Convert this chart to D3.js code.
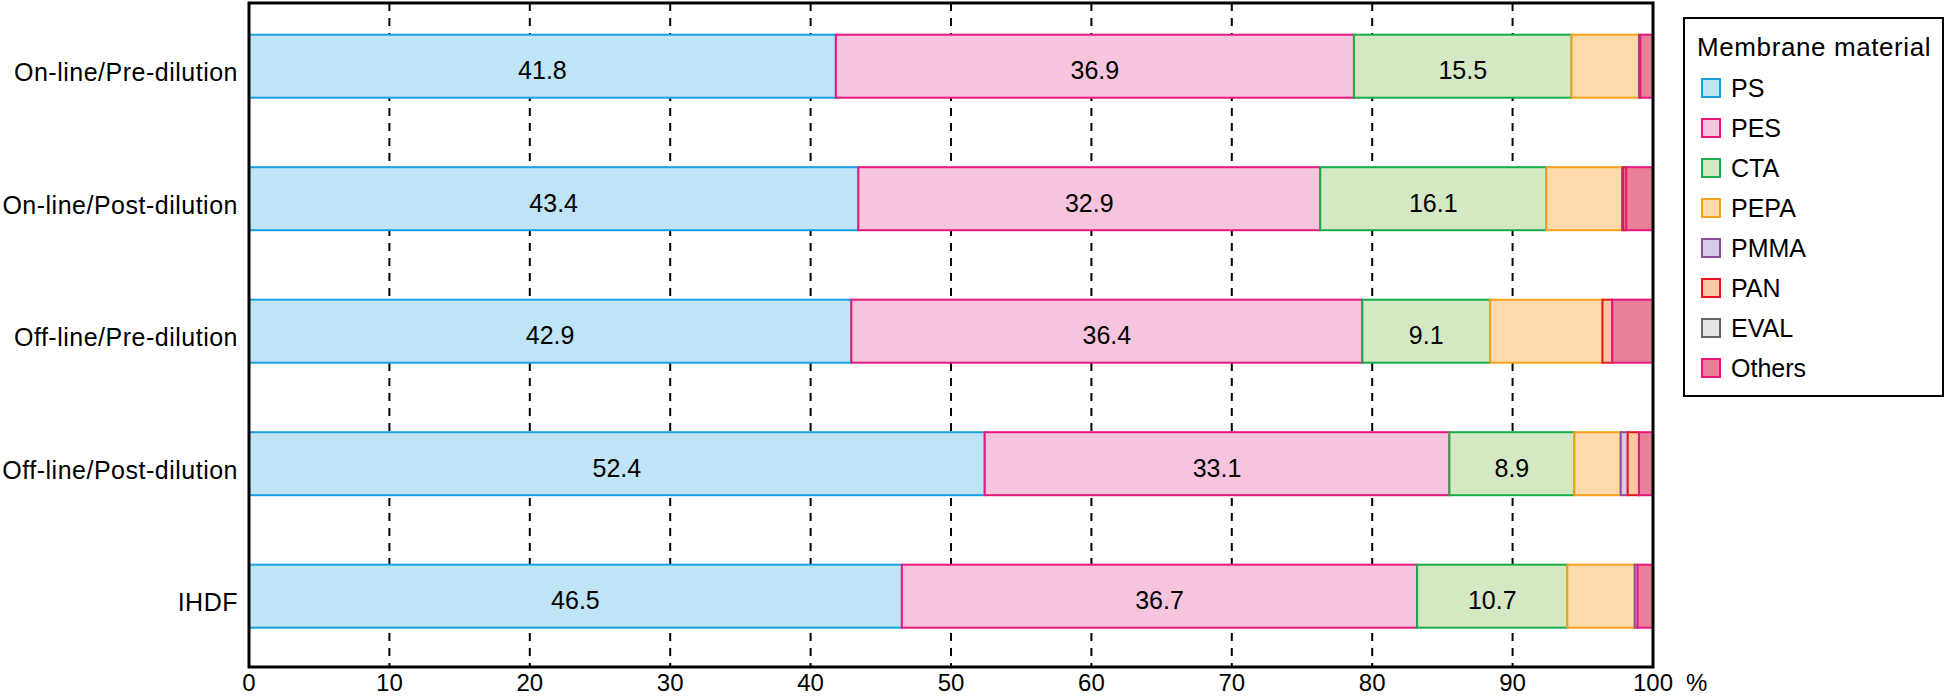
<!DOCTYPE html>
<html>
<head>
<meta charset="utf-8">
<script src="https://cdn.jsdelivr.net/npm/d3@7"></script>
<style>
  body { margin: 0; background: #fff; }
  svg text { font-family: "Liberation Sans", Arial, sans-serif; fill: #000; }
</style>
</head>
<body>
<svg id="chart" width="1946" height="698"></svg>
<script>
// data
const categories = ["On-line/Pre-dilution", "On-line/Post-dilution", "Off-line/Pre-dilution", "Off-line/Post-dilution", "IHDF"]
const materials = ["PS", "PES", "CTA", "PEPA", "PMMA", "PAN", "EVAL", "Others"]
const ps = [41.8, 43.4, 42.9, 52.4, 46.5]
const pes = [36.9, 32.9, 36.4, 33.1, 36.7]
const cta = [15.5, 16.1, 9.1, 8.9, 10.7]
const pepa = [4.8, 5.4, 8.0, 3.3, 4.8]
const pmma = [0.1, 0.1, 0, 0.5, 0.2]
const pan = [0, 0.2, 0.7, 0.8, 0]
const evalv = [0, 0, 0, 0, 0]
const others = [0.9, 1.9, 2.9, 1.0, 1.1]
const xTicks = [0, 10, 20, 30, 40, 50, 60, 70, 80, 90, 100]

const fills = ["#bfe4f6", "#f7c4dd", "#d5e8c4", "#fdd9ab", "#d9cbe5", "#fbc8a6", "#e6e6e6", "#e8809a"]
const strokes = ["#1aa0e2", "#e6187e", "#1aab4b", "#f7a11c", "#8e4b9b", "#e8151f", "#666666", "#e6187e"]

const seriesVals = [ps, pes, cta, pepa, pmma, pan, evalv, others]
const rows = categories.map((c, i) => {
    let r = { cat: c }
    materials.forEach((m, j) => { r[m] = seriesVals[j][i] })
    return r
})

const svg = d3.select("#chart")
const plot = { left: 249, right: 1653, top: 3, bottom: 667 }

const x = d3.scaleLinear().domain([0, 100]).range([plot.left, plot.right])
const y = d3.scaleBand().domain(categories).range([2.9, 659.5])
    .paddingInner(0.5245).paddingOuter(0.24)

// dashed grid
svg.append("g").selectAll("line")
    .data(xTicks.filter(d => d > 0 && d < 100))
    .enter().append("line")
    .attr("x1", d => x(d)).attr("x2", d => x(d))
    .attr("y1", plot.top).attr("y2", plot.bottom)
    .attr("stroke", "#000").attr("stroke-width", 2)
    .attr("stroke-dasharray", "8,7")

const stacked = d3.stack().keys(materials)(rows)

const layers = svg.append("g").selectAll("g")
    .data(stacked)
    .enter().append("g")

layers.selectAll("rect")
    .data(d => d.filter(s => s[1] - s[0] > 0))
    .enter().append("rect")
    .attr("x", s => x(s[0]))
    .attr("width", s => x(s[1]) - x(s[0]))
    .attr("y", s => y(s.data.cat))
    .attr("height", y.bandwidth())
    .attr("fill", function () { return fills[d3.select(this.parentNode).datum().index] })
    .attr("stroke", function () { return strokes[d3.select(this.parentNode).datum().index] })
    .attr("stroke-width", 2)

// value labels for the three big materials
layers.filter(d => d.index < 3).selectAll("text")
    .data(d => d)
    .enter().append("text")
    .attr("x", s => (x(s[0]) + x(s[1])) / 2)
    .attr("y", s => y(s.data.cat) + y.bandwidth() / 2 + 13)
    .attr("text-anchor", "middle")
    .attr("font-size", 25)
    .text(s => (s[1] - s[0]).toFixed(1))

// frame
svg.append("rect")
    .attr("x", plot.left).attr("y", plot.top)
    .attr("width", plot.right - plot.left).attr("height", plot.bottom - plot.top)
    .attr("fill", "none").attr("stroke", "#000").attr("stroke-width", 3)

// category labels
svg.append("g").selectAll("text")
    .data(categories)
    .enter().append("text")
    .attr("x", 238)
    .attr("y", d => y(d) + y.bandwidth() / 2 + 15)
    .attr("text-anchor", "end")
    .attr("font-size", 25)
    .attr("letter-spacing", 0.5)
    .text(d => d)

// x tick labels
svg.append("g").selectAll("text")
    .data(xTicks)
    .enter().append("text")
    .attr("x", d => x(d))
    .attr("y", 691)
    .attr("text-anchor", "middle")
    .attr("font-size", 24)
    .text(d => d)

svg.append("text")
    .attr("x", 1686).attr("y", 691)
    .attr("font-size", 24)
    .text("%")

// legend
const lg = svg.append("g").attr("transform", "translate(1684,18)")
lg.append("rect")
    .attr("width", 259).attr("height", 378)
    .attr("fill", "#fff").attr("stroke", "#000").attr("stroke-width", 2)
lg.append("text")
    .attr("x", 13).attr("y", 38)
    .attr("font-size", 26)
    .attr("letter-spacing", 0.6)
    .text("Membrane material")

const item = lg.selectAll(".legendItem")
    .data(materials)
    .enter().append("g")
    .attr("class", "legendItem")
    .attr("transform", (d, i) => "translate(18," + (61 + i * 40) + ")")
item.append("rect")
    .attr("width", 18).attr("height", 18)
    .attr("fill", (d, i) => fills[i])
    .attr("stroke", (d, i) => strokes[i])
    .attr("stroke-width", 2)
item.append("text")
    .attr("x", 29).attr("y", 18)
    .attr("font-size", 25)
    .text(d => d)
</script>
</body>
</html>
